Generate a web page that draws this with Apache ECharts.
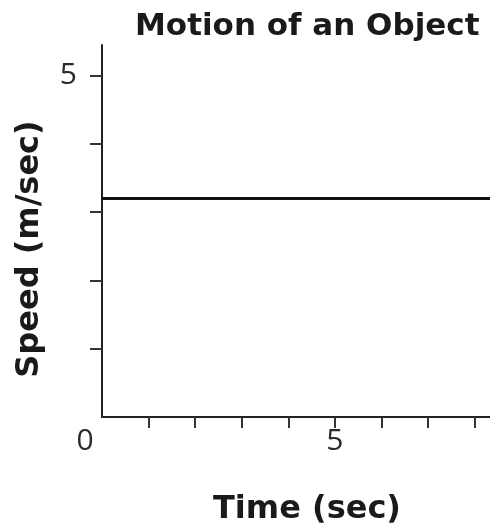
<!DOCTYPE html>
<html>
<head>
<meta charset="utf-8">
<script src="https://cdn.jsdelivr.net/npm/echarts@6/dist/echarts.min.js"></script>
<style>
  html, body { margin: 0; padding: 0; background: #fff; }
  #chart { width: 490px; height: 526px; }
</style>
</head>
<body>
<div id="chart"></div>
<script>
// data
var times = [0, 8.33];          // sec
var speeds = [3.2, 3.2];        // m/sec, constant
var xTicks = [1, 2, 3, 4, 5, 6, 7, 8];
var yTicks = [1, 2, 3, 4, 5];
var xLabelsShown = [0, 5];
var yLabelsShown = [5];

var chart = echarts.init(document.getElementById('chart'));

var boldFont = 'DejaVu Sans';
var tickFont = 'Open Sans';

var option = {
    animation: false,
    title: {
        text: 'Motion of an Object',
        left: 130,
        top: 6,
        textStyle: { fontFamily: boldFont, fontWeight: 'bold', fontSize: 31, color: '#1a1a1a' }
    },
    grid: { left: 102, right: 0, top: 45, bottom: 109, containLabel: false, outerBoundsMode: 'none' },
    xAxis: {
        type: 'value',
        min: 0,
        max: 8.33,
        interval: 1,
        splitLine: { show: false },
        axisLine: { lineStyle: { color: '#222', width: 2 } },
        axisTick: { length: 11, customValues: xTicks, lineStyle: { color: '#333', width: 2 } },
        axisLabel: {
            margin: 9,
            customValues: xLabelsShown,
            fontFamily: tickFont,
            fontSize: 30,
            color: '#2a2a2a',
            formatter: function (v) {
                return v === 0 ? '{zero|0}' : String(v);
            },
            rich: {
                zero: { fontFamily: tickFont, fontSize: 30, color: '#2a2a2a', padding: [0, 34, 0, 0] }
            }
        },
        name: 'Time (sec)',
        nameLocation: 'middle',
        nameGap: 77,
        nameTextStyle: { fontFamily: boldFont, fontWeight: 'bold', fontSize: 32, color: '#1a1a1a', padding: [0, 0, 0, 22] }
    },
    yAxis: {
        type: 'value',
        min: 0,
        max: 5.45,
        interval: 1,
        splitLine: { show: false },
        axisLine: { lineStyle: { color: '#222', width: 2 } },
        axisTick: { length: 12, customValues: yTicks, lineStyle: { color: '#333', width: 2 } },
        axisLabel: {
            margin: 9,
            customValues: yLabelsShown,
            fontFamily: tickFont,
            fontSize: 30,
            color: '#2a2a2a',
            formatter: function (v) {
                return '{five|' + v + '}';
            },
            rich: {
                five: { fontFamily: tickFont, fontSize: 30, color: '#2a2a2a', padding: [0, 16, 0, 0] }
            }
        },
        name: 'Speed (m/sec)',
        nameLocation: 'middle',
        nameGap: 56,
        nameTextStyle: { fontFamily: boldFont, fontWeight: 'bold', fontSize: 32, color: '#1a1a1a', padding: [0, 36, 0, 0] }
    },
    series: [{
        type: 'line',
        data: times.map(function (t, i) { return [t, speeds[i]]; }),
        showSymbol: false,
        lineStyle: { color: '#111', width: 3 }
    }]
};

chart.setOption(option);
</script>
</body>
</html>
